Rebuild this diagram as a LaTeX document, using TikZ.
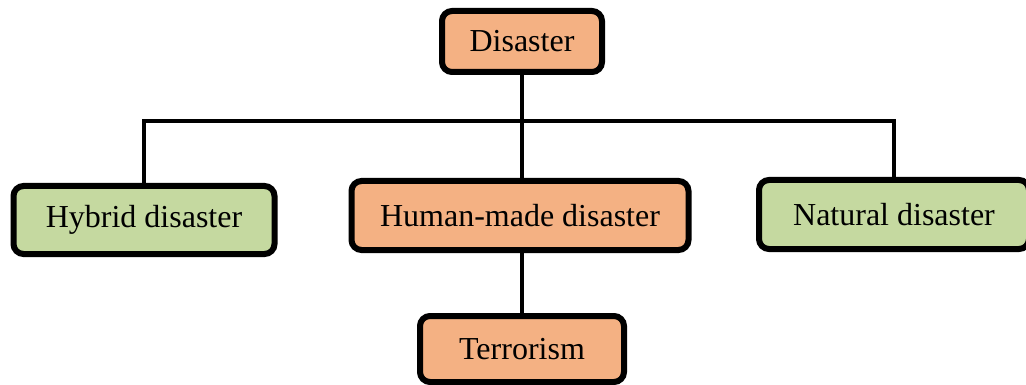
\documentclass[tikz,border=0pt]{standalone}
\usepackage{fontspec}
\setmainfont{Liberation Serif}
\definecolor{boxorange}{HTML}{F4B183}
\definecolor{boxgreen}{HTML}{C5D9A0}
\begin{document}
\begin{tikzpicture}[x=1pt,y=-1pt,
  box/.style={draw=black, line width=6pt, rounded corners=10pt,
    inner sep=0pt, font=\fontsize{32}{38}\selectfont},
  manmade/.style={box, fill=boxorange},
  natural/.style={box, fill=boxgreen},
  conn/.style={draw=black, line width=4.6pt}]
\useasboundingbox (0,0) rectangle (1026,385);

% category boxes
\node[manmade, minimum width=160pt, minimum height=61pt] (dis) at (522,41.5) {Disaster};
\node[natural, minimum width=261pt, minimum height=68pt] (hyb) at (144,220) {Hybrid disaster};
\node[manmade, minimum width=337pt, minimum height=69pt] (hum) at (520,215.5) {Human-made disaster};
\node[natural, minimum width=270pt, minimum height=69pt] (nat) at (894,214.5) {Natural disaster};
\node[manmade, minimum width=204pt, minimum height=66pt] (ter) at (522,349) {Terrorism};

% tree connectors
\coordinate (bar) at (522,121);
\draw[conn] (hyb.north) |- (bar) -| (nat.north);
\draw[conn] (dis.south) -- (dis.south |- hum.north);
\draw[conn] (ter.north |- hum.south) -- (ter.north);
\end{tikzpicture}
\end{document}
